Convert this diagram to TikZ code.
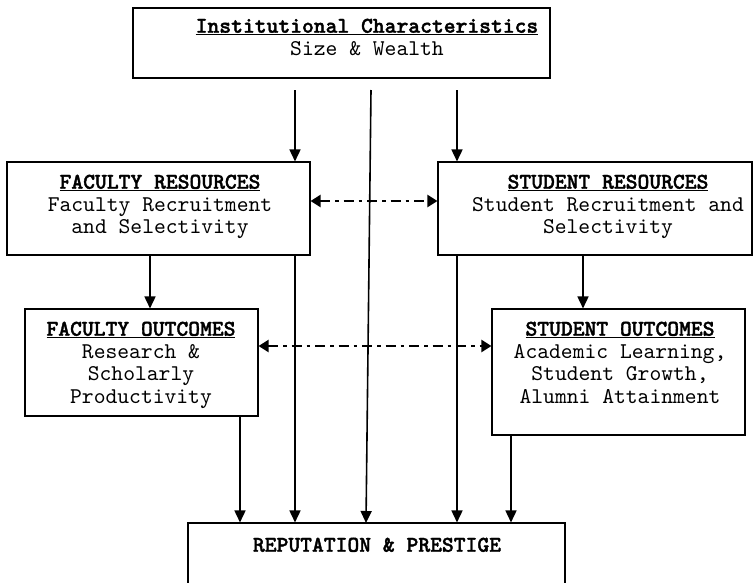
\documentclass[tikz,border=0pt]{standalone}
\usepackage{fontspec}
\setmainfont{lmmono10-regular.otf}[BoldFont=lmmonolt10-bold.otf,BoldFeatures={FakeBold=1.6}]
\usetikzlibrary{arrows.meta,calc}
\begin{document}
\begin{tikzpicture}[x=1pt,y=-1pt,
  box/.style={draw,line width=1.1pt,rectangle,inner sep=0pt},
  txt/.style={inner sep=0pt,align=center,anchor=north,font=\fontsize{22.5}{22.5}\selectfont},
  arr/.style={line width=1.6pt,-{Triangle[length=12pt,width=11pt]}},
  dd/.style={line width=2.2pt,dash pattern=on 10pt off 5pt on 3.5pt off 5pt,{Triangle[length=10pt,width=12pt]}-{Triangle[length=10pt,width=12pt]}}]
\useasboundingbox (0,0) rectangle (753,582);
% boxes
\node[box,minimum width=417pt,minimum height=70pt] (top) at (341.5,43) {};
\node[box,minimum width=303pt,minimum height=93pt] (fr) at (158.5,208.5) {};
\node[box,minimum width=314pt,minimum height=93pt] (sr) at (595,208.5) {};
\node[box,minimum width=233pt,minimum height=107pt] (fo) at (141.5,362.5) {};
\node[box,minimum width=253pt,minimum height=126pt] (so) at (618.5,372) {};
\node[box,minimum width=377pt,minimum height=80pt] (rep) at (376.5,563) {};
% texts
\node[txt] (topt) at (367,18.5) {\textbf{\underline{Institutional Characteristics}}\\Size \& Wealth};
\node[txt] (frt) at (160,174.5) {\textbf{\underline{FACULTY RESOURCES}}\\Faculty Recruitment\\and Selectivity};
\node[txt] (srt) at (608,174.5) {\textbf{\underline{STUDENT RESOURCES}}\\Student Recruitment and\\Selectivity};
\node[txt] (fot) at (141,321.5) {\textbf{\underline{FACULTY OUTCOMES}}\\Research \&\\Scholarly\\Productivity};
\node[txt] (sot) at (620,321.5) {\textbf{\underline{STUDENT OUTCOMES}}\\Academic Learning,\\Student Growth,\\Alumni Attainment};
\node[txt] (rept) at (377,537.5) {\textbf{REPUTATION \& PRESTIGE}};
% start coordinates
\coordinate (a1) at (295,90);
\coordinate (a2) at (457,90);
\coordinate (a3) at (371,90);
\coordinate (a3e) at (366,523);
% connectors
\draw[arr] (a1) -- (a1 |- fr.north);
\draw[arr] (a2) -- (a2 |- sr.north);
\draw[arr] (a3) -- (a3e);
\draw[arr] (fr.south -| 150,0) -- (fo.north -| 150,0);
\draw[arr] (sr.south -| 583,0) -- (so.north -| 583,0);
\draw[arr] (fr.south -| 295,0) -- (rep.north -| 295,0);
\draw[arr] (sr.south -| 457,0) -- (rep.north -| 457,0);
\draw[arr] (fo.south -| 240,0) -- (rep.north -| 240,0);
\draw[arr] (so.south -| 511,0) -- (rep.north -| 511,0);
\draw[dd] (fr.east |- 0,201) -- (sr.west |- 0,201);
\draw[dd] (fo.east |- 0,346) -- (so.west |- 0,346);
\end{tikzpicture}
\end{document}
